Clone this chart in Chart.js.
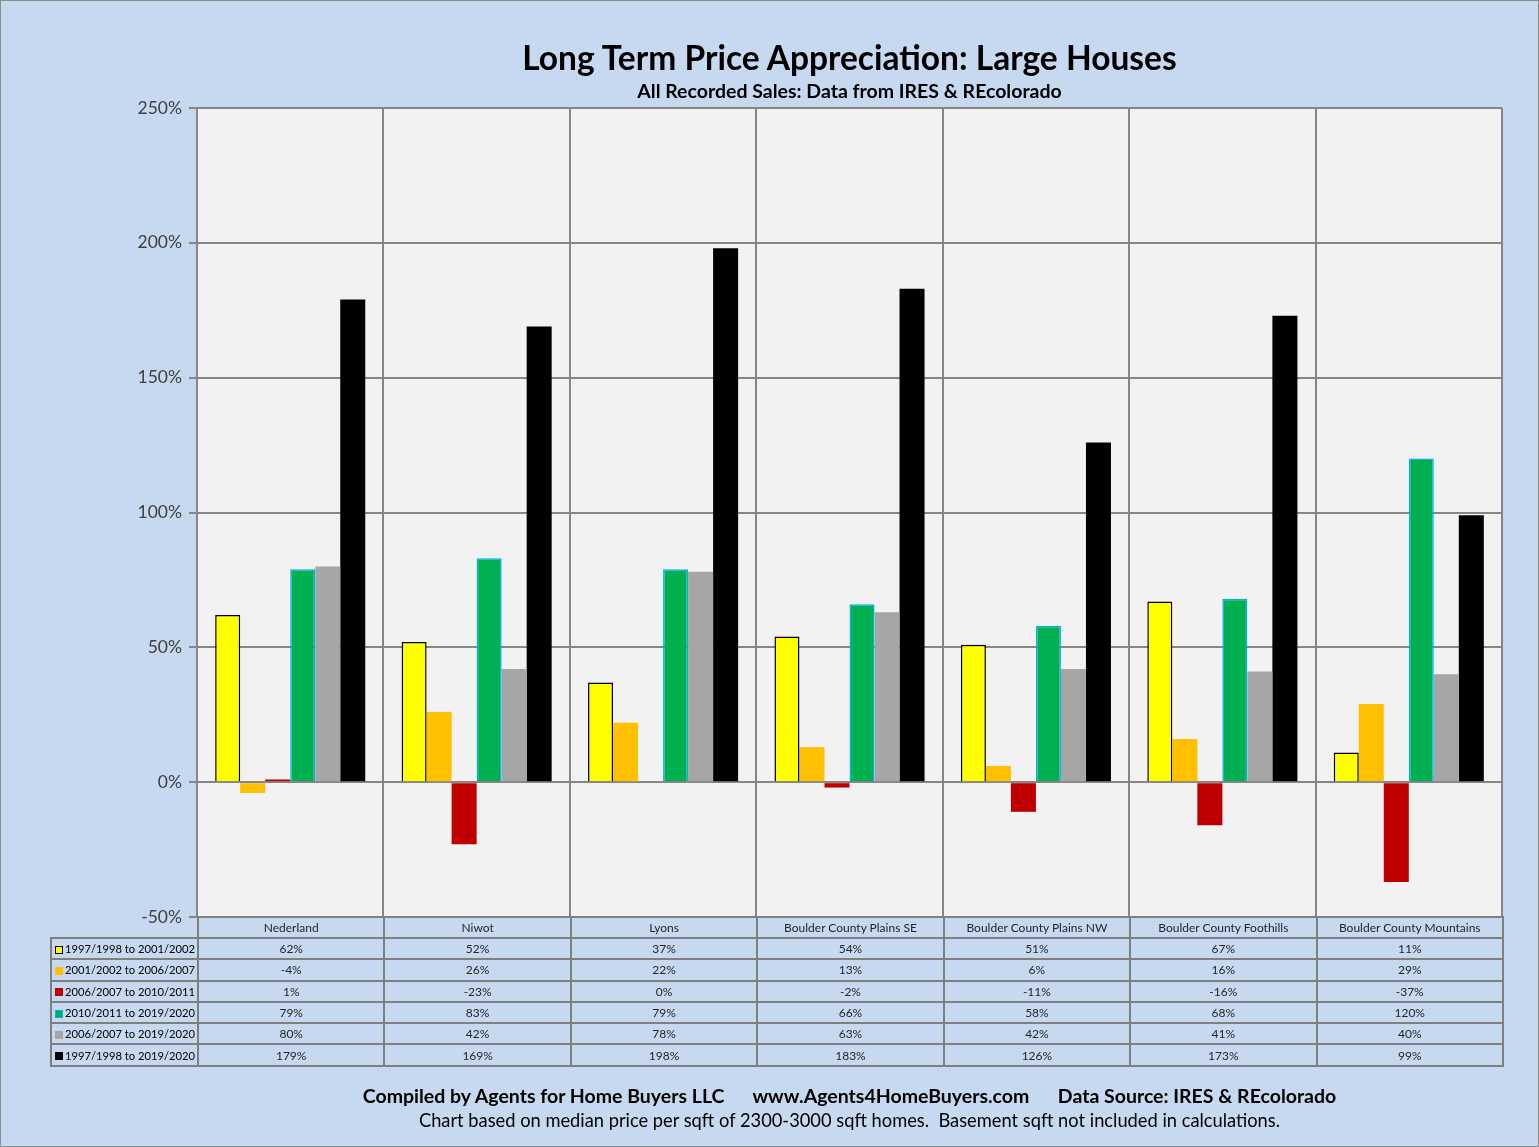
<!DOCTYPE html>
<html lang="en">
<head>
<meta charset="UTF-8">
<title>Long Term Price Appreciation: Large Houses</title>
<script src="https://cdn.jsdelivr.net/npm/chart.js"></script>
<style>
  body { margin: 0; background: #c6d9f1; font-family: Lato, "Open Sans", sans-serif; color: #000; }
  #page { position: relative; width: 1537px; height: 1145px; border: 1px solid #8c8c8c; background: #c6d9f1; overflow: hidden; }
  #wrap { position: absolute; left: 0; top: 0; width: 1537px; height: 1145px; }
  .ttl { position: absolute; text-align: center; white-space: nowrap; }
  #title { top: 35px; font-size: 33.5px; font-weight: bold; line-height: 42px; }
  #subtitle { top: 78px; font-size: 19.5px; font-weight: bold; line-height: 24px; }
  #foot1 { top: 1082px; font-size: 19.5px; font-weight: bold; line-height: 26px; }
  #foot2 { top: 1106px; font-size: 18.3px; line-height: 26px; }
  #tbl { position: absolute; border-collapse: collapse; table-layout: fixed; font-size: 12px; color: #262626; }
  #tbl td { border: 2px solid #7f7f7f; text-align: center; padding: 0; white-space: nowrap; overflow: hidden; }
  #tbl td.corner { border: none; }
  #tbl td.lab { text-align: left; padding-left: 3px; font-size: 11.2px; color: #000; }
  .key { display: inline-block; width: 8px; height: 8px; margin-right: 2px; vertical-align: -0.5px; box-sizing: border-box; }
</style>
</head>
<body>
<div id="page">
  <div id="wrap"><canvas id="chart"></canvas></div>
  <div id="title" class="ttl">Long Term Price Appreciation: Large Houses</div>
  <div id="subtitle" class="ttl">All Recorded Sales: Data from IRES &amp; REcolorado</div>
  <table id="tbl"></table>
  <div id="foot1" class="ttl">Compiled by Agents for Home Buyers LLC&nbsp;&nbsp;&nbsp;&nbsp;&nbsp; www.Agents4HomeBuyers.com&nbsp;&nbsp;&nbsp;&nbsp;&nbsp; Data Source: IRES &amp; REcolorado</div>
  <div id="foot2" class="ttl">Chart based on median price per sqft of 2300-3000 sqft homes.&nbsp; Basement sqft not included in calculations.</div>
</div>
<script>
  const categories = ['Nederland', 'Niwot', 'Lyons', 'Boulder County Plains SE',
    'Boulder County Plains NW', 'Boulder County Foothills', 'Boulder County Mountains'];
  const seriesNames = ['1997/1998 to 2001/2002', '2001/2002 to 2006/2007', '2006/2007 to 2010/2011',
    '2010/2011 to 2019/2020', '2006/2007 to 2019/2020', '1997/1998 to 2019/2020'];
  const p9702 = [62, 52, 37, 54, 51, 67, 11];
  const p0207 = [-4, 26, 22, 13, 6, 16, 29];
  const p0711 = [1, -23, 0, -2, -11, -16, -37];
  const p1120 = [79, 83, 79, 66, 58, 68, 120];
  const p0720 = [80, 42, 78, 63, 42, 41, 40];
  const p9720 = [179, 169, 198, 183, 126, 173, 99];
  const yMin = -50, yMax = 250, yStep = 50;

  const values = [p9702, p0207, p0711, p1120, p0720, p9720];
  const fills = ['#ffff00', '#ffc000', '#c00000', '#00b050', '#a6a6a6', '#000000'];
  const edges = ['#000000', '#ffc000', '#c00000', '#00b0f0', '#a6a6a6', '#000000'];
  const edgeW = [1.5, 0, 0, 1.5, 0, 0];
  const gridCol = '#868686';

  const plotBg = {
    id: 'plotBg',
    beforeDraw(c) {
      const a = c.chartArea, ctx = c.ctx;
      ctx.save();
      ctx.fillStyle = '#f2f2f2';
      ctx.fillRect(a.left, a.top, a.right - a.left, a.bottom - a.top);
      ctx.restore();
    }
  };

  const chart = new Chart(document.getElementById('chart'), {
    type: 'bar',
    data: {
      labels: categories,
      datasets: seriesNames.map((name, i) => ({
        label: name,
        data: values[i],
        backgroundColor: fills[i],
        borderColor: edges[i],
        borderWidth: edgeW[i],
        barPercentage: 1,
        categoryPercentage: 0.805
      }))
    },
    options: {
      responsive: true,
      maintainAspectRatio: false,
      animation: false,
      layout: { padding: { left: 0, right: 36, top: 107, bottom: 229 } },
      plugins: { legend: { display: false }, tooltip: { enabled: false } },
      scales: {
        x: {
          ticks: { display: false },
          grid: { color: gridCol, lineWidth: 2, drawTicks: false, offset: true },
          border: { color: gridCol, width: 2 },
          afterFit: s => { s.height = 0; }
        },
        y: {
          min: yMin,
          max: yMax,
          ticks: {
            stepSize: yStep,
            callback: v => v + '%',
            color: '#404040',
            font: { family: 'Lato, "Open Sans", sans-serif', size: 17.5 },
            padding: 7
          },
          grid: { color: gridCol, lineWidth: 2, tickLength: 8 },
          border: { color: gridCol, width: 2 },
          afterFit: s => { s.width = 196; }
        }
      }
    },
    plugins: [plotBg]
  });

  // data table under the plot, lined up with the category columns
  const area = chart.chartArea;
  const colW = (area.right - area.left) / categories.length;
  const tableLeft = 49;

  ['title', 'subtitle', 'foot1', 'foot2'].forEach(id => {
    const el = document.getElementById(id);
    el.style.left = area.left + 'px';
    el.style.width = (area.right - area.left) + 'px';
  });

  const tbl = document.getElementById('tbl');
  tbl.style.left = tableLeft + 'px';
  tbl.style.top = (area.bottom - 1) + 'px';
  tbl.style.width = (area.right - tableLeft) + 'px';

  let html = '<colgroup><col style="width:' + (area.left - tableLeft) + 'px">';
  categories.forEach(() => { html += '<col style="width:' + colW + 'px">'; });
  html += '</colgroup><tr style="height:21px"><td class="corner"></td>';
  categories.forEach(c => { html += '<td>' + c + '</td>'; });
  html += '</tr>';
  seriesNames.forEach((name, i) => {
    html += '<tr style="height:21.3px"><td class="lab"><span class="key" style="background:' + fills[i] +
      ';border:' + (edgeW[i] ? '1.5px solid ' + edges[i] : 'none') + '"></span>' + name + '</td>';
    values[i].forEach(v => { html += '<td>' + v + '%</td>'; });
    html += '</tr>';
  });
  tbl.innerHTML = html;
</script>
</body>
</html>
